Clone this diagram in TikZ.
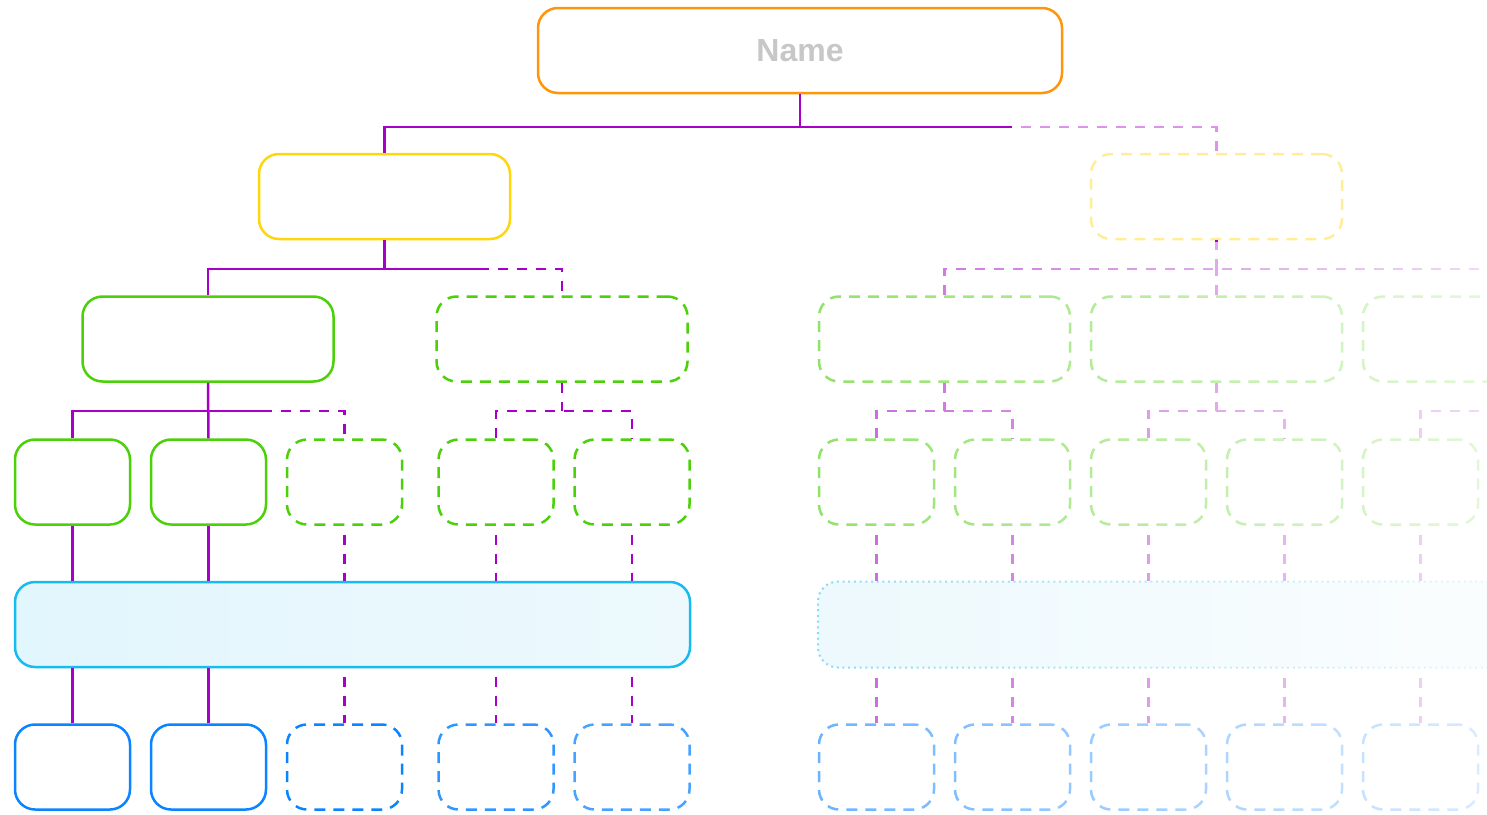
\documentclass[tikz,border=0pt]{standalone}
\usepackage{fontspec}
\setmainfont{Liberation Sans}
\definecolor{purp}{RGB}{168,0,200}
\definecolor{orng}{RGB}{255,149,10}
\definecolor{yell}{RGB}{255,214,10}
\definecolor{grn}{RGB}{76,208,10}
\definecolor{cyn}{RGB}{22,188,240}
\definecolor{cynL}{RGB}{226,246,253}
\definecolor{cynR}{RGB}{237,249,253}
\definecolor{blu}{RGB}{10,132,255}
\definecolor{txtgray}{RGB}{199,199,199}
\begin{document}
\begin{tikzpicture}[x=1pt,y=-1pt,
  conn/.style={draw=purp, line width=2.5pt},
  dconn/.style={conn, dash pattern=on 10pt off 9pt},
  gconn/.style={dconn, dash phase=10pt},
  bx/.style={draw, rounded corners=20pt, line width=2.5pt, inner sep=0pt, fill=white},
  dbx/.style={bx, dash pattern=on 11pt off 8pt},
  wide/.style={minimum width=251pt, minimum height=85pt},
  narrow/.style={minimum width=115pt, minimum height=85pt}]
\useasboundingbox (0,0) rectangle (1487,814);
\clip (0,0) rectangle (1487,814);

% ---- nodes ----
\node[bx, draw=orng, minimum width=524pt, minimum height=85pt] (top) at (800,50.5)
  {\color{txtgray}\bfseries\fontsize{32}{32}\selectfont Name};
\node[bx, wide, draw=yell] (y1) at (384.5,196.5) {};
\node[dbx, wide, draw=yell, draw opacity=0.42] (y2) at (1216.5,196.5) {};

\node[bx, wide, draw=grn] (gA) at (208,339) {};
\node[dbx, wide, draw=grn] (gB) at (562,339) {};
\node[dbx, wide, draw=grn] (gC) at (944.5,339) {};
\node[dbx, wide, draw=grn] (gD) at (1216.5,339) {};
\node[dbx, wide, draw=grn] (gE) at (1488.5,339) {};

\node[bx, narrow, draw=grn] (l3a) at (72.5,482) {};
\node[bx, narrow, draw=grn] (l3b) at (208.5,482) {};
\node[dbx, narrow, draw=grn] (l3c) at (344.5,482) {};
\node[dbx, narrow, draw=grn] (l3d) at (496,482) {};
\node[dbx, narrow, draw=grn] (l3e) at (632,482) {};
\node[dbx, narrow, draw=grn] (r3a) at (876.5,482) {};
\node[dbx, narrow, draw=grn] (r3b) at (1012.5,482) {};
\node[dbx, narrow, draw=grn] (r3c) at (1148.5,482) {};
\node[dbx, narrow, draw=grn] (r3d) at (1284.5,482) {};
\node[dbx, narrow, draw=grn] (r3e) at (1420.5,482) {};

\node[draw=cyn, line width=2.5pt, rounded corners=20pt, inner sep=0pt,
  minimum width=675pt, minimum height=85pt, left color=cynL, right color=cynR] (barL) at (352.5,624.5) {};
\node[draw=cyn!85, line width=2pt, rounded corners=20pt, inner sep=0pt,
  dash pattern=on 2pt off 3.7pt, fill=cynL,
  minimum width=702pt, minimum height=86pt] (barR) at (1169,624.5) {};

\node[bx, narrow, draw=blu] (l5a) at (72.5,767) {};
\node[bx, narrow, draw=blu] (l5b) at (208.5,767) {};
\node[dbx, narrow, draw=blu] (l5c) at (344.5,767) {};
\node[dbx, narrow, draw=blu!85] (l5d) at (496,767) {};
\node[dbx, narrow, draw=blu!75] (l5e) at (632,767) {};
\node[dbx, narrow, draw=blu] (r5a) at (876.5,767) {};
\node[dbx, narrow, draw=blu] (r5b) at (1012.5,767) {};
\node[dbx, narrow, draw=blu] (r5c) at (1148.5,767) {};
\node[dbx, narrow, draw=blu] (r5d) at (1284.5,767) {};
\node[dbx, narrow, draw=blu] (r5e) at (1420.5,767) {};

% ---- junction coordinates ----
\coordinate (h1) at (0,127);
\coordinate (e1) at (1012,127);
\coordinate (h2) at (0,269);
\coordinate (e2) at (489,269);
\coordinate (h3) at (0,411);
\coordinate (e3) at (272,411);

% ---- level 1 ----
\draw[conn] (top.south) -- (top.south |- h1);
\draw[conn] (y1.north) |- (e1);
\draw[gconn, draw opacity=0.42] (e1) -| (y2.north);

% ---- level 2 ----
\draw[conn] (y1.south) -- (y1.south |- h2);
\draw[conn] (gA.north) |- (e2);
\draw[gconn] (e2) -| (gB.north);
\draw[dconn] (y2.south) -- (y2.south |- h2);
\draw[dconn] (gC.north) |- (gE.north |- h2) -- (gE.north);
\draw[dconn] (gD.north) -- (gD.north |- h2);

% ---- level 3 ----
\draw[conn] (gA.south) -- (l3b.north);
\draw[conn] (l3a.north) |- (e3);
\draw[gconn] (e3) -| (l3c.north);
\draw[dconn] (gB.south) -- (gB.south |- h3);
\draw[dconn] (l3d.north) |- (l3e.north |- h3) -- (l3e.north);
\draw[dconn] (gC.south) -- (gC.south |- h3);
\draw[dconn] (r3a.north) |- (r3b.north |- h3) -- (r3b.north);
\draw[dconn] (gD.south) -- (gD.south |- h3);
\draw[dconn] (r3c.north) |- (r3d.north |- h3) -- (r3d.north);
\draw[dconn] (gE.south) -- (gE.south |- h3);
\draw[dconn] (r3e.north) |- (gE.south |- h3);

% ---- level 3 -> bar -> level 5 ----
\draw[conn] (l3a.south) -- (barL.north -| l3a);
\draw[conn] (l3b.south) -- (barL.north -| l3b);
\draw[conn] (barL.south -| l5a) -- (l5a.north);
\draw[conn] (barL.south -| l5b) -- (l5b.north);
\foreach \n in {l3c,l3d,l3e}{
  \draw[gconn] (\n.south) -- (barL.north -| \n);
}
\draw[gconn] (barL.south -| l5c) -- (l5c.north);
\draw[gconn] (barL.south -| l5d) -- (l5d.north);
\draw[gconn] (barL.south -| l5e) -- (l5e.north);
\foreach \n in {r3a,r3b,r3c,r3d,r3e}{
  \draw[gconn] (\n.south) -- (barR.north -| \n);
}
\foreach \n in {r5a,r5b,r5c,r5d,r5e}{
  \draw[gconn] (barR.south -| \n) -- (\n.north);
}

% ---- fade of the optional right-hand branch ----
\foreach \i in {0,...,68}{
  \pgfmathsetmacro{\op}{0.38+0.47*\i/68}
  \fill[white, fill opacity=\op] ({800+10*\i},242) rectangle ({810+10*\i},814);
}
\end{tikzpicture}
\end{document}
